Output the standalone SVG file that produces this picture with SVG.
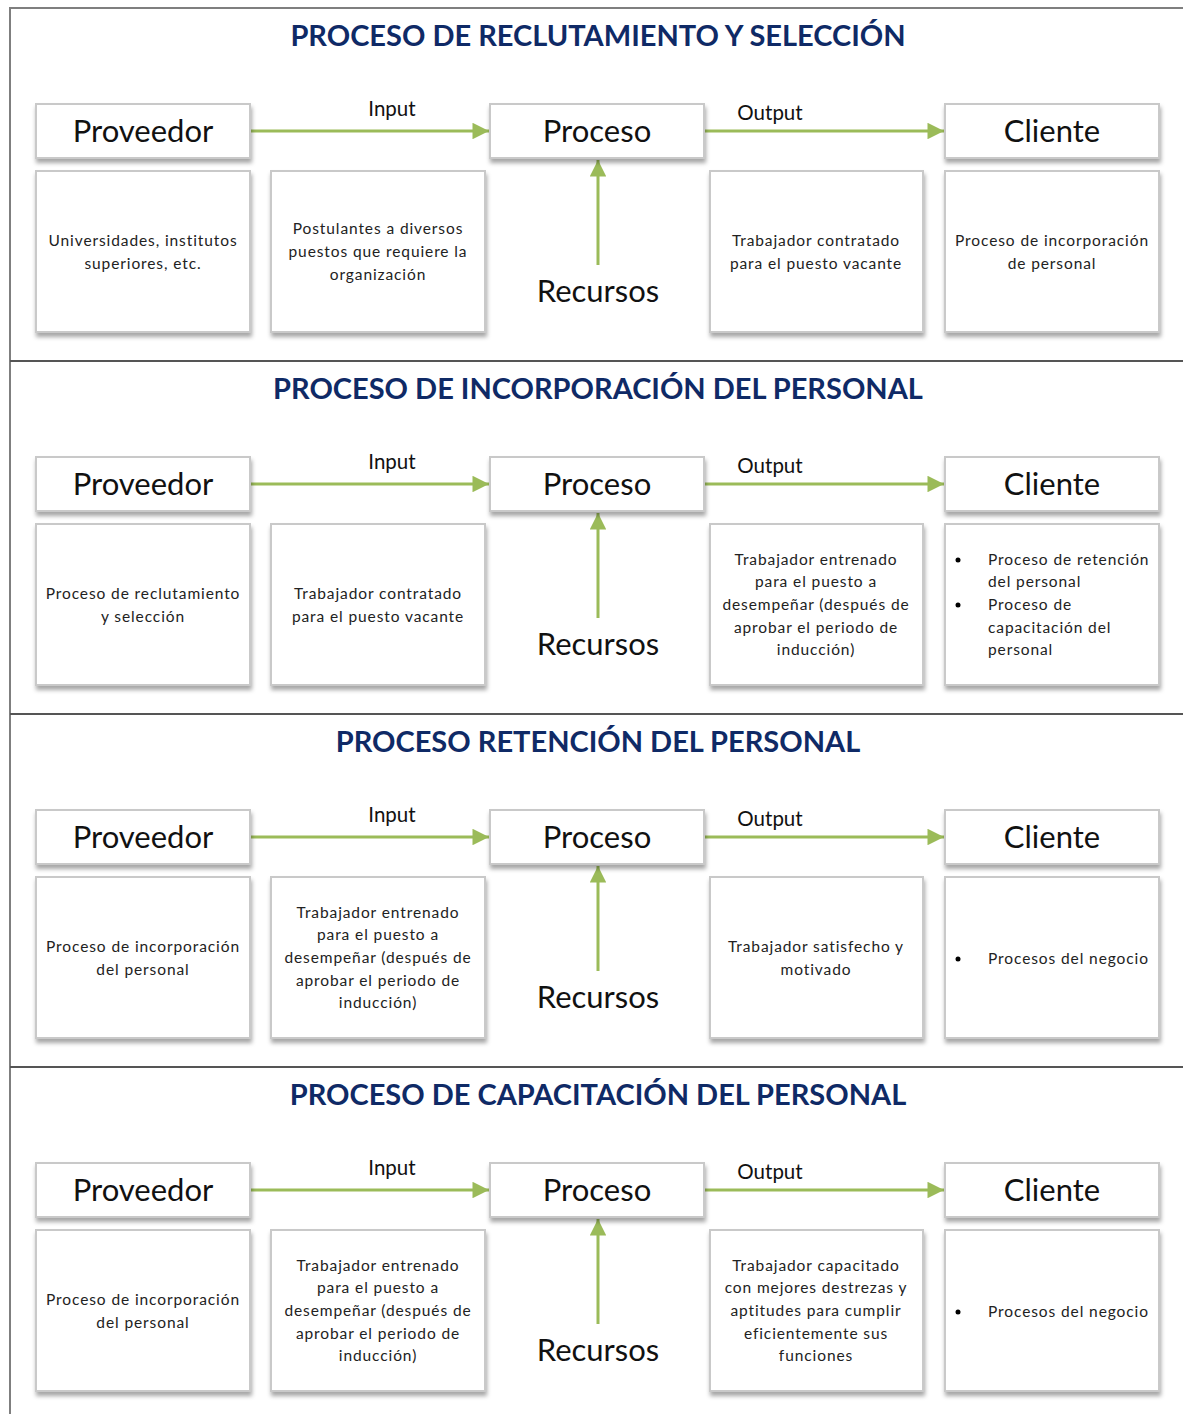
<svg xmlns="http://www.w3.org/2000/svg" width="1183" height="1414" viewBox="0 0 1183 1414">
<defs>
<style>
.frame{fill:none;stroke:#7f7f7f;stroke-width:2}
.sep{stroke:#555;stroke-width:2}
.box{fill:#fff;stroke:#c9c9c9;stroke-width:2;filter:url(#sh)}
.title{font-family:Lato,"Liberation Sans",sans-serif;font-weight:bold;font-size:29px;fill:#0f2a66;text-anchor:middle}
.hdr{font-family:Lato,"Liberation Sans",sans-serif;font-size:31px;fill:#111;text-anchor:middle}
.lbl{font-family:Lato,"Liberation Sans",sans-serif;font-size:20.5px;fill:#111;text-anchor:middle}
.txt{font-family:Lato,"Liberation Sans",sans-serif;font-size:15.5px;letter-spacing:0.9px;fill:#222;text-anchor:middle}
.lt{font-family:Lato,"Liberation Sans",sans-serif;font-size:15.5px;letter-spacing:0.9px;fill:#222}
.arr{stroke:#9bbb59;stroke-width:3;fill:none;marker-end:url(#ah)}
</style>
<filter id="sh" x="-10%" y="-10%" width="125%" height="130%">
<feDropShadow dx="1" dy="4" stdDeviation="2" flood-color="#000" flood-opacity="0.35"/>
</filter>
<marker id="ah" viewBox="0 0 10 10" refX="10" refY="5" markerWidth="6.5" markerHeight="5.5" orient="auto" markerUnits="strokeWidth">
<path d="M0,0 L10,5 L0,10 z" fill="#9bbb59"/>
</marker>
</defs>
<rect width="1183" height="1414" fill="#fff"/>
<g id="frame">
<path class="frame" d="M10,1414 V8 H1183"/>
<line class="sep" x1="10" y1="361" x2="1183" y2="361"/>
<line class="sep" x1="10" y1="714" x2="1183" y2="714"/>
<line class="sep" x1="10" y1="1067" x2="1183" y2="1067"/>
</g>

<!-- Panel 1 -->
<g id="panel1">
<text class="title" x="598" y="46">PROCESO DE RECLUTAMIENTO Y SELECCIÓN</text>
<g id="p1-connectors">
<line class="arr" x1="251" y1="131" x2="489" y2="131"/>
<line class="arr" x1="705" y1="131" x2="944" y2="131"/>
<line class="arr" x1="598" y1="265" x2="598" y2="160"/>
<text class="lbl" x="392" y="116">Input</text>
<text class="lbl" x="770" y="120">Output</text>
</g>
<g id="p1-proveedor"><rect class="box" x="36" y="104" width="214" height="54"/><text class="hdr" x="143" y="142">Proveedor</text></g>
<g id="p1-proceso"><rect class="box" x="490" y="104" width="214" height="54"/><text class="hdr" x="597" y="142">Proceso</text></g>
<g id="p1-cliente"><rect class="box" x="945" y="104" width="214" height="54"/><text class="hdr" x="1052" y="142">Cliente</text></g>
<g id="p1-recursos"><text class="hdr" x="598" y="302">Recursos</text></g>
<g id="p1-d1"><rect class="box" x="36" y="171" width="214" height="161"/>
<text class="txt" x="143" y="246">Universidades, institutos</text><text class="txt" x="143" y="269">superiores, etc.</text></g>
<g id="p1-d2"><rect class="box" x="271" y="171" width="214" height="161"/>
<text class="txt" x="378" y="234">Postulantes a diversos</text><text class="txt" x="378" y="257">puestos que requiere la</text><text class="txt" x="378" y="280">organización</text></g>
<g id="p1-d3"><rect class="box" x="710" y="171" width="213" height="161"/>
<text class="txt" x="816" y="246">Trabajador contratado</text><text class="txt" x="816" y="269">para el puesto vacante</text></g>
<g id="p1-d4"><rect class="box" x="945" y="171" width="214" height="161"/>
<text class="txt" x="1052" y="246">Proceso de incorporación</text><text class="txt" x="1052" y="269">de personal</text></g>
</g>

<!-- Panel 2 -->
<g id="panel2" transform="translate(0,353)">
<text class="title" x="598" y="46">PROCESO DE INCORPORACIÓN DEL PERSONAL</text>
<g id="p2-connectors">
<line class="arr" x1="251" y1="131" x2="489" y2="131"/>
<line class="arr" x1="705" y1="131" x2="944" y2="131"/>
<line class="arr" x1="598" y1="265" x2="598" y2="160"/>
<text class="lbl" x="392" y="116">Input</text>
<text class="lbl" x="770" y="120">Output</text>
</g>
<g id="p2-proveedor"><rect class="box" x="36" y="104" width="214" height="54"/><text class="hdr" x="143" y="142">Proveedor</text></g>
<g id="p2-proceso"><rect class="box" x="490" y="104" width="214" height="54"/><text class="hdr" x="597" y="142">Proceso</text></g>
<g id="p2-cliente"><rect class="box" x="945" y="104" width="214" height="54"/><text class="hdr" x="1052" y="142">Cliente</text></g>
<g id="p2-recursos"><text class="hdr" x="598" y="302">Recursos</text></g>
<g id="p2-d1"><rect class="box" x="36" y="171" width="214" height="161"/>
<text class="txt" x="143" y="246">Proceso de reclutamiento</text><text class="txt" x="143" y="269">y selección</text></g>
<g id="p2-d2"><rect class="box" x="271" y="171" width="214" height="161"/>
<text class="txt" x="378" y="246">Trabajador contratado</text><text class="txt" x="378" y="269">para el puesto vacante</text></g>
<g id="p2-d3"><rect class="box" x="710" y="171" width="213" height="161"/>
<text class="txt" x="816" y="212">Trabajador entrenado</text><text class="txt" x="816" y="234">para el puesto a</text><text class="txt" x="816" y="257">desempeñar (después de</text><text class="txt" x="816" y="280">aprobar el periodo de</text><text class="txt" x="816" y="302">inducción)</text></g>
<g id="p2-d4"><rect class="box" x="945" y="171" width="214" height="161"/>
<circle cx="958" cy="207" r="2.5" fill="#000"/><circle cx="958" cy="252" r="2.5" fill="#000"/>
<text class="lt" x="988" y="212">Proceso de retención</text><text class="lt" x="988" y="234">del personal</text><text class="lt" x="988" y="257">Proceso de</text><text class="lt" x="988" y="280">capacitación del</text><text class="lt" x="988" y="302">personal</text></g>
</g>

<!-- Panel 3 -->
<g id="panel3" transform="translate(0,706)">
<text class="title" x="598" y="46">PROCESO RETENCIÓN DEL PERSONAL</text>
<g id="p3-connectors">
<line class="arr" x1="251" y1="131" x2="489" y2="131"/>
<line class="arr" x1="705" y1="131" x2="944" y2="131"/>
<line class="arr" x1="598" y1="265" x2="598" y2="160"/>
<text class="lbl" x="392" y="116">Input</text>
<text class="lbl" x="770" y="120">Output</text>
</g>
<g id="p3-proveedor"><rect class="box" x="36" y="104" width="214" height="54"/><text class="hdr" x="143" y="142">Proveedor</text></g>
<g id="p3-proceso"><rect class="box" x="490" y="104" width="214" height="54"/><text class="hdr" x="597" y="142">Proceso</text></g>
<g id="p3-cliente"><rect class="box" x="945" y="104" width="214" height="54"/><text class="hdr" x="1052" y="142">Cliente</text></g>
<g id="p3-recursos"><text class="hdr" x="598" y="302">Recursos</text></g>
<g id="p3-d1"><rect class="box" x="36" y="171" width="214" height="161"/>
<text class="txt" x="143" y="246">Proceso de incorporación</text><text class="txt" x="143" y="269">del personal</text></g>
<g id="p3-d2"><rect class="box" x="271" y="171" width="214" height="161"/>
<text class="txt" x="378" y="212">Trabajador entrenado</text><text class="txt" x="378" y="234">para el puesto a</text><text class="txt" x="378" y="257">desempeñar (después de</text><text class="txt" x="378" y="280">aprobar el periodo de</text><text class="txt" x="378" y="302">inducción)</text></g>
<g id="p3-d3"><rect class="box" x="710" y="171" width="213" height="161"/>
<text class="txt" x="816" y="246">Trabajador satisfecho y</text><text class="txt" x="816" y="269">motivado</text></g>
<g id="p3-d4"><rect class="box" x="945" y="171" width="214" height="161"/>
<circle cx="958" cy="253" r="2.5" fill="#000"/>
<text class="lt" x="988" y="258">Procesos del negocio</text></g>
</g>

<!-- Panel 4 -->
<g id="panel4" transform="translate(0,1059)">
<text class="title" x="598" y="46">PROCESO DE CAPACITACIÓN DEL PERSONAL</text>
<g id="p4-connectors">
<line class="arr" x1="251" y1="131" x2="489" y2="131"/>
<line class="arr" x1="705" y1="131" x2="944" y2="131"/>
<line class="arr" x1="598" y1="265" x2="598" y2="160"/>
<text class="lbl" x="392" y="116">Input</text>
<text class="lbl" x="770" y="120">Output</text>
</g>
<g id="p4-proveedor"><rect class="box" x="36" y="104" width="214" height="54"/><text class="hdr" x="143" y="142">Proveedor</text></g>
<g id="p4-proceso"><rect class="box" x="490" y="104" width="214" height="54"/><text class="hdr" x="597" y="142">Proceso</text></g>
<g id="p4-cliente"><rect class="box" x="945" y="104" width="214" height="54"/><text class="hdr" x="1052" y="142">Cliente</text></g>
<g id="p4-recursos"><text class="hdr" x="598" y="302">Recursos</text></g>
<g id="p4-d1"><rect class="box" x="36" y="171" width="214" height="161"/>
<text class="txt" x="143" y="246">Proceso de incorporación</text><text class="txt" x="143" y="269">del personal</text></g>
<g id="p4-d2"><rect class="box" x="271" y="171" width="214" height="161"/>
<text class="txt" x="378" y="212">Trabajador entrenado</text><text class="txt" x="378" y="234">para el puesto a</text><text class="txt" x="378" y="257">desempeñar (después de</text><text class="txt" x="378" y="280">aprobar el periodo de</text><text class="txt" x="378" y="302">inducción)</text></g>
<g id="p4-d3"><rect class="box" x="710" y="171" width="213" height="161"/>
<text class="txt" x="816" y="212">Trabajador capacitado</text><text class="txt" x="816" y="234">con mejores destrezas y</text><text class="txt" x="816" y="257">aptitudes para cumplir</text><text class="txt" x="816" y="280">eficientemente sus</text><text class="txt" x="816" y="302">funciones</text></g>
<g id="p4-d4"><rect class="box" x="945" y="171" width="214" height="161"/>
<circle cx="958" cy="253" r="2.5" fill="#000"/>
<text class="lt" x="988" y="258">Procesos del negocio</text></g>
</g>
</svg>
